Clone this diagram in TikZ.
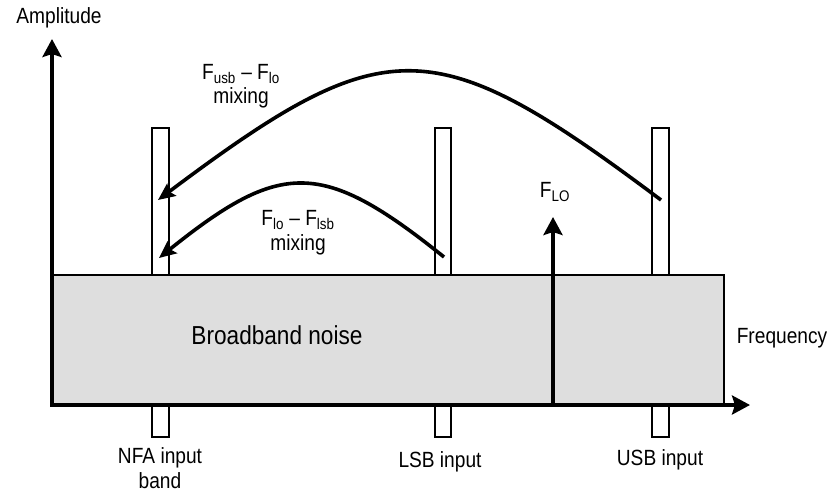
\documentclass[tikz,border=0pt]{standalone}
\usepackage{fontspec}
\setmainfont{Liberation Sans}[FakeStretch=0.87]
\usetikzlibrary{arrows.meta}
\definecolor{noisegray}{RGB}{222,222,222}

\begin{document}
\begin{tikzpicture}[x=1pt,y=-1pt,line join=miter,
  axisline/.style={line width=4pt,{Stealth[length=18pt,width=19pt,inset=3pt]}-{Stealth[length=18pt,width=19pt,inset=3pt]}},
  loarrow/.style={line width=4pt,-{Stealth[length=18pt,width=19pt,inset=3pt]}},
  mixarrow/.style={line width=3.6pt,-{Stealth[length=17pt,width=15pt,inset=3pt]}},
  bandbox/.style={draw,line width=1.6pt,fill=white},
  lbl/.style={font=\fontsize{22}{25}\selectfont,align=center,inner sep=0pt}]
 \useasboundingbox (0,0) rectangle (837,493);
 \draw[bandbox] (152,128) rectangle (169,437);
 \draw[bandbox] (435,128) rectangle (451,437);
 \draw[bandbox] (652,128) rectangle (669,437);
 \filldraw[fill=noisegray,line width=1.6pt] (52,275) rectangle (724,405);
 \coordinate (origin) at (52,405);
 \coordinate (ytip) at (52,39);
 \coordinate (xtip) at (750,405);
 \draw[axisline] (ytip) -- (origin) -- (xtip);
 \coordinate (lofoot) at (553,405);
 \coordinate (lotip) at (553,217);
 \draw[loarrow] (lofoot) -- (lotip);
 \coordinate (usbmix) at (661,200);
 \coordinate (nfaupper) at (158,200);
 \coordinate (lsbmix) at (444,257);
 \coordinate (nfalower) at (159,258);
 \draw[mixarrow] (usbmix) .. controls (433,29) and (386,29) .. (nfaupper);
 \draw[mixarrow] (lsbmix) .. controls (322,159) and (281,160) .. (nfalower);
 \node[lbl] (amp) at (59,18) {Amplitude};
 \node[lbl] (freq) at (782,338) {Frequency};
 \node[lbl,font=\fontsize{26}{28}\selectfont] (noise) at (277,335) {Broadband noise};
 \node[lbl] (nfa) at (160,468) {NFA input\\band};
 \node[lbl] (lsb) at (440,462) {LSB input};
 \node[lbl] (usb) at (660,460) {USB input};
 \node[lbl] (flo) at (555,192) {F\textsubscript{LO}};
 \node[lbl,font=\fontsize{22}{24}\selectfont] (usbmixlbl) at (241,86) {F\textsubscript{usb} -- F\textsubscript{lo}\\mixing};
 \node[lbl,font=\fontsize{22}{25}\selectfont] (lsbmixlbl) at (298,233) {F\textsubscript{lo} -- F\textsubscript{lsb}\\mixing};
\end{tikzpicture}
\end{document}
